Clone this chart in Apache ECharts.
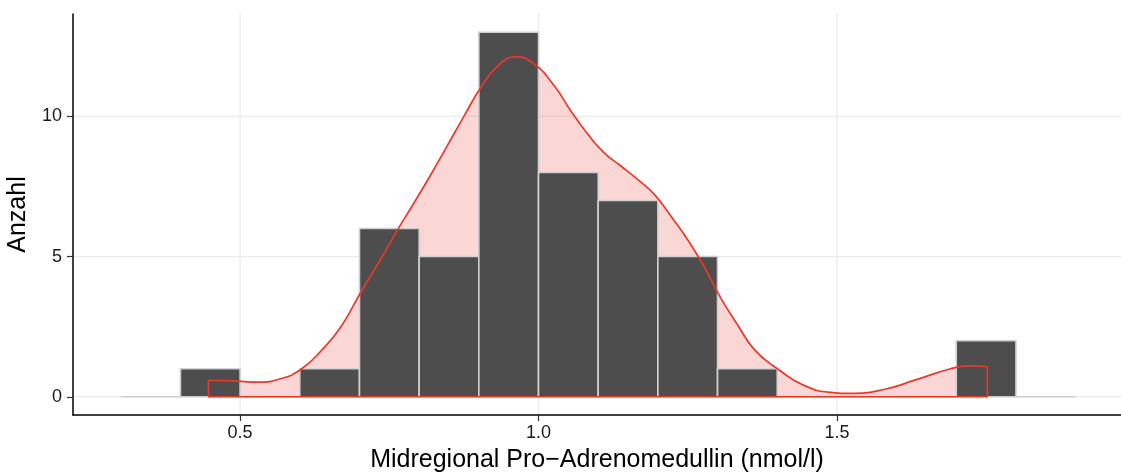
<!DOCTYPE html>
<html>
<head>
<meta charset="utf-8">
<script src="https://cdn.jsdelivr.net/npm/echarts@6/dist/echarts.min.js"></script>
<style>
  html, body { margin: 0; padding: 0; background: #ffffff; }
  #chart { width: 1121px; height: 473px; }
</style>
</head>
<body>
<div id="chart"></div>
<script>
// Histogram bins (width 0.1 nmol/l) and their counts
const binStarts = [0.3, 0.4, 0.5, 0.6, 0.7, 0.8, 0.9, 1.0, 1.1, 1.2, 1.3, 1.4, 1.5, 1.6, 1.7, 1.8];
const binCounts = [0, 1, 0, 1, 6, 5, 13, 8, 7, 5, 1, 0, 0, 0, 2, 0];
const binWidth = 0.1;

// Kernel density estimate, scaled to counts
const densX = [0.447, 0.468, 0.502, 0.530, 0.569, 0.602, 0.635, 0.669, 0.702, 0.736, 0.764, 0.791,
               0.819, 0.847, 0.875, 0.903, 0.931, 0.961, 0.992, 1.026, 1.054, 1.082, 1.110, 1.138,
               1.166, 1.194, 1.222, 1.250, 1.278, 1.306, 1.334, 1.361, 1.395, 1.449, 1.493, 1.522,
               1.577, 1.633, 1.689, 1.722, 1.752];
const densY = [0.58, 0.58, 0.55, 0.52, 0.65, 0.98, 1.62, 2.50, 3.72, 4.92, 5.96, 6.90,
               7.90, 8.95, 10.00, 11.02, 11.78, 12.12, 11.88, 11.10, 10.20, 9.38, 8.70, 8.23,
               7.75, 7.22, 6.44, 5.60, 4.62, 3.50, 2.55, 1.70, 1.08, 0.37, 0.15, 0.12,
               0.25, 0.61, 0.99, 1.10, 1.08];

// Axis ticks
const xTicks = [0.5, 1.0, 1.5];
const yTicks = [0, 5, 10];

const FONT = "'Liberation Sans', Arial, Helvetica, sans-serif";
const RED = '#e8392b';
const GRID_COLOR = '#ebebeb';

const barData = binStarts.map((s, i) => [s, s + binWidth, binCounts[i]]);
const curve = densX.map((x, i) => [x, densY[i]]);
const last = densX.length - 1;
const closingEdge = [
  [densX[0], densY[0]], [densX[0], 0], [densX[last], 0], [densX[last], densY[last]]
];

// Major grid lines, one item per tick
const vGrid = xTicks.map(v => [v, yTicks[0]]);
const hGrid = yTicks.map(v => [xTicks[0], v]);

function gridLineItem(vertical) {
  return function (params, api) {
    const cs = params.coordSys;
    const p = api.coord([api.value(0), api.value(1)]);
    const shape = vertical
      ? { x1: p[0], y1: cs.y, x2: p[0], y2: cs.y + cs.height }
      : { x1: cs.x, y1: p[1], x2: cs.x + cs.width, y2: p[1] };
    return { type: 'line', shape: shape, style: { stroke: GRID_COLOR, lineWidth: 1.3 } };
  };
}

const chart = echarts.init(document.getElementById('chart'), null, { renderer: 'canvas' });
chart.setOption({
  animation: false,
  backgroundColor: '#ffffff',
  grid: { left: 73, right: 0, top: 14, bottom: 58, containLabel: false, outerBoundsMode: 'none' },
  xAxis: {
    type: 'value',
    min: 0.22,
    max: 1.976,
    name: 'Midregional Pro\u2212Adrenomedullin (nmol/l)',
    nameLocation: 'middle',
    nameGap: 33,
    nameTextStyle: { fontFamily: FONT, fontSize: 25, color: '#000000', verticalAlign: 'top' },
    axisLine: { show: true, onZero: false, lineStyle: { color: '#000000', width: 1.5 } },
    axisTick: { show: true, length: 6, customValues: xTicks, lineStyle: { color: '#333333', width: 1.2 } },
    axisLabel: {
      customValues: xTicks,
      margin: 9,
      fontFamily: FONT, fontSize: 18, color: '#1a1a1a',
      formatter: v => Number(v).toFixed(1)
    },
    splitLine: { show: false }
  },
  yAxis: {
    type: 'value',
    min: -0.65,
    max: 13.65,
    name: 'Anzahl',
    nameLocation: 'middle',
    nameGap: 42,
    nameRotate: 90,
    nameTextStyle: { fontFamily: FONT, fontSize: 25, color: '#000000' },
    axisLine: { show: true, onZero: false, lineStyle: { color: '#000000', width: 1.5 } },
    axisTick: { show: true, length: 6, customValues: yTicks, lineStyle: { color: '#333333', width: 1.2 } },
    axisLabel: {
      customValues: yTicks,
      margin: 11,
      fontFamily: FONT, fontSize: 18, color: '#1a1a1a'
    },
    splitLine: { show: false }
  },
  series: [
    {
      type: 'custom', z: 0, silent: true,
      data: vGrid, encode: { x: 0, y: 1 },
      renderItem: gridLineItem(true)
    },
    {
      type: 'custom', z: 0, silent: true,
      data: hGrid, encode: { x: 0, y: 1 },
      renderItem: gridLineItem(false)
    },
    {
      // density fill, under the bars
      type: 'line',
      data: curve,
      z: 1,
      smooth: 0.5,
      symbol: 'none',
      silent: true,
      lineStyle: { width: 0, opacity: 0 },
      areaStyle: { color: 'rgba(232,57,43,0.2)', opacity: 1, origin: 0 }
    },
    {
      // histogram bars
      type: 'custom',
      z: 2,
      silent: true,
      data: barData,
      encode: { x: [0, 1], y: 2 },
      renderItem: function (params, api) {
        const topLeft = api.coord([api.value(0), api.value(2)]);
        const bottomRight = api.coord([api.value(1), 0]);
        return {
          type: 'rect',
          shape: {
            x: topLeft[0],
            y: topLeft[1],
            width: bottomRight[0] - topLeft[0],
            height: bottomRight[1] - topLeft[1]
          },
          style: { fill: '#4d4d4d', stroke: '#d0d0d0', lineWidth: 1.6 }
        };
      }
    },
    {
      // density outline
      type: 'line',
      data: curve,
      z: 3,
      smooth: 0.5,
      symbol: 'none',
      silent: true,
      lineStyle: { color: RED, width: 1.7 }
    },
    {
      // closing edges of the density polygon
      type: 'line',
      data: closingEdge,
      z: 3,
      smooth: false,
      symbol: 'none',
      silent: true,
      lineStyle: { color: RED, width: 1.7 }
    }
  ]
});
</script>
</body>
</html>
